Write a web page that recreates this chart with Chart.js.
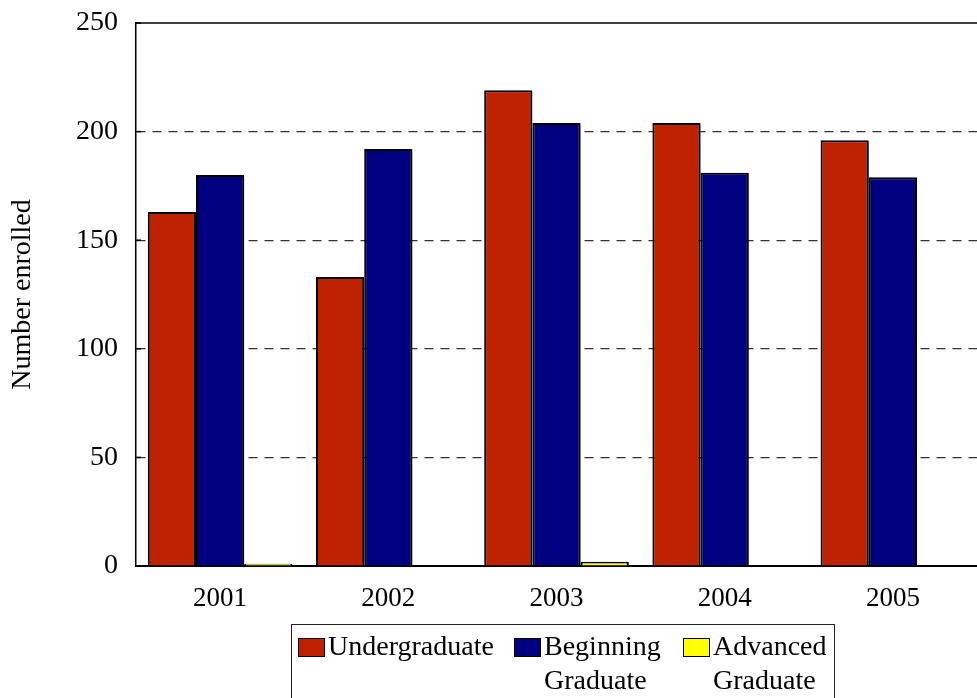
<!DOCTYPE html>
<html>
<head>
<meta charset="utf-8">
<script src="https://cdn.jsdelivr.net/npm/chart.js@4.4.1/dist/chart.umd.min.js"></script>
<style>
    html, body { margin: 0; padding: 0; background: #fff; overflow: hidden; }
    #wrap { position: relative; width: 977px; height: 698px; }
    #legend {
        position: absolute; left: 291px; top: 624px; width: 544px; height: 90px;
        border: 1.5px solid #222; box-sizing: border-box;
        font-family: "Liberation Serif", "DejaVu Serif", serif; font-size: 28px; color: #000;
    }
    .item { position: absolute; top: 4px; line-height: 34px; }
    .swatch { position: absolute; left: 0; top: 9px; width: 25px; height: 17px; border: 1.5px solid #000; }
    .label { margin-left: 30px; }
</style>
</head>
<body>
<div id="wrap">
    <canvas id="enrolChart" width="977" height="698"></canvas>
    <div id="legend"></div>
</div>
<script>
const years = ['2001', '2002', '2003', '2004', '2005'];
const undergraduate = [163, 133, 219, 204, 196];
const beginningGraduate = [180, 192, 204, 181, 179];
const advancedGraduate = [1, 0, 2, 0, 0];
const yTicks = [0, 50, 100, 150, 200, 250];

const seriesNames = ['Undergraduate', ['Beginning', 'Graduate'], ['Advanced', 'Graduate']];
const seriesColors = ['#BF2200', '#000080', '#FFFF00'];

// build the legend as html so the two-line labels wrap like the original
const legendPos = [6, 222, 391];
const legend = document.getElementById('legend');
seriesNames.forEach((name, i) => {
    const lines = Array.isArray(name) ? name : [name];
    const item = document.createElement('div');
    item.className = 'item';
    item.style.left = legendPos[i] + 'px';
    item.innerHTML = `<div class="swatch" style="background:${seriesColors[i]}"></div>` +
        `<div class="label">${lines.join('<br>')}</div>`;
    legend.appendChild(item);
});

// top frame line + bar shadows
const framePlugin = {
    id: 'frame',
    beforeDatasetsDraw(chart) {
        const ctx = chart.ctx;
        ctx.save();
        ctx.shadowColor = 'rgba(0,0,0,0.35)';
        ctx.shadowOffsetX = 2;
        ctx.shadowOffsetY = 2;
        ctx.shadowBlur = 1;
    },
    afterDatasetsDraw(chart) {
        chart.ctx.restore();
    },
    afterDraw(chart) {
        const { ctx, chartArea } = chart;
        ctx.save();
        ctx.strokeStyle = '#000';
        ctx.lineWidth = 1.5;
        ctx.beginPath();
        ctx.moveTo(chartArea.left, chartArea.top);
        ctx.lineTo(chartArea.right, chartArea.top);
        ctx.stroke();
        // small inward ticks on the y axis
        const y = chart.scales.y;
        yTicks.forEach(v => {
            const py = y.getPixelForValue(v);
            ctx.beginPath();
            ctx.moveTo(chartArea.left, py);
            ctx.lineTo(chartArea.left + 5, py);
            ctx.stroke();
        });
        ctx.restore();
    }
};

const serif = "'Liberation Serif', 'DejaVu Serif', serif";

new Chart(document.getElementById('enrolChart'), {
    type: 'bar',
    data: {
        labels: years,
        datasets: [
            { label: 'Undergraduate', data: undergraduate, backgroundColor: seriesColors[0] },
            { label: 'Beginning Graduate', data: beginningGraduate, backgroundColor: seriesColors[1] },
            { label: 'Advanced Graduate', data: advancedGraduate, backgroundColor: seriesColors[2] }
        ]
    },
    options: {
        responsive: false,
        animation: false,
        layout: { padding: { top: 23, right: 0, bottom: 82, left: 0 } },
        datasets: {
            bar: {
                borderColor: '#000',
                borderWidth: 2,
                categoryPercentage: 0.86,
                barPercentage: 1.0
            }
        },
        plugins: {
            legend: { display: false },
            tooltip: { enabled: false }
        },
        scales: {
            x: {
                grid: { display: false, drawTicks: false },
                border: { color: '#000', width: 2 },
                ticks: { color: '#000', font: { family: serif, size: 27 }, padding: 17 },
                afterFit(scale) {
                    scale.height = 50;
                    scale.paddingLeft = 0;
                    scale.paddingRight = 0;
                }
            },
            y: {
                min: 0,
                max: 250,
                afterBuildTicks(scale) { scale.ticks = yTicks.map(v => ({ value: v })); },
                grid: {
                    color: ctx => (ctx.tick && (ctx.tick.value === 0 || ctx.tick.value === 250)) ? 'rgba(0,0,0,0)' : '#333',
                    lineWidth: 1.2,
                    drawTicks: false
                },
                border: { color: '#000', width: 1.5, dash: [9, 7] },
                ticks: { color: '#000', font: { family: serif, size: 28 }, padding: 18 },
                title: {
                    display: true,
                    text: 'Number enrolled',
                    color: '#000',
                    font: { family: serif, size: 28 },
                    padding: { top: 6, bottom: 0 }
                },
                afterFit(scale) {
                    scale.width = 136;
                    scale.paddingTop = 0;
                    scale.paddingBottom = 0;
                }
            }
        }
    },
    plugins: [framePlugin]
});
</script>
</body>
</html>
